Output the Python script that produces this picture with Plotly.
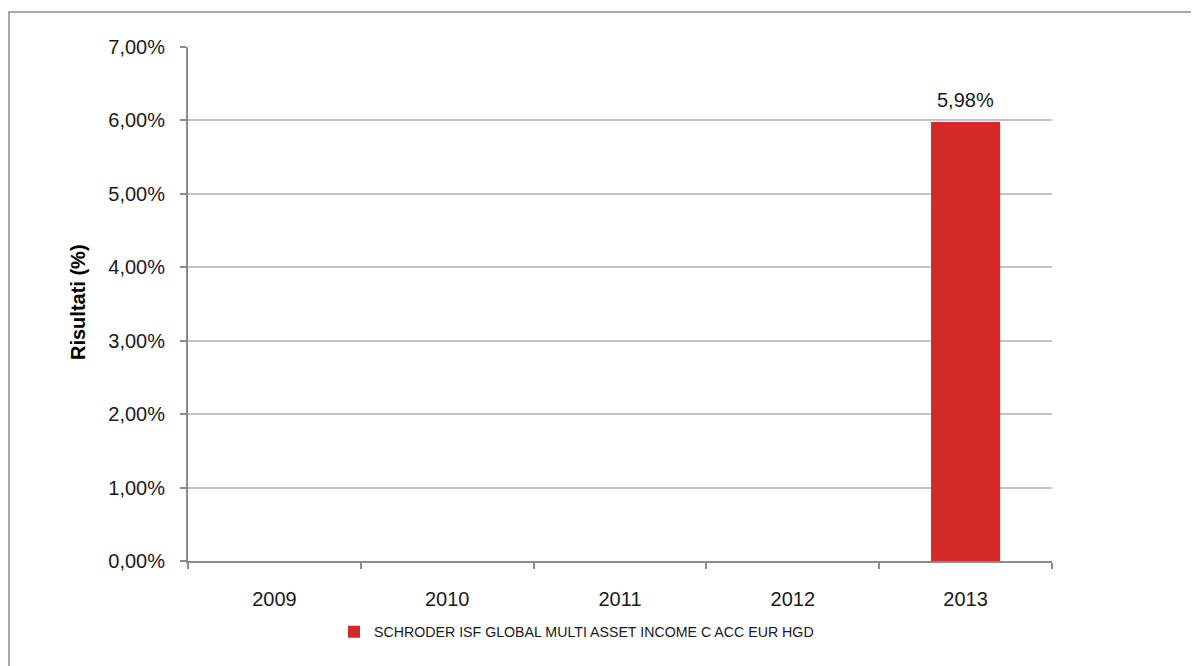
import plotly.graph_objects as go

years = ["2009", "2010", "2011", "2012", "2013"]
values = [None, None, None, None, 5.98]
series_name = "SCHRODER ISF GLOBAL MULTI ASSET INCOME C ACC EUR HGD"
y_ticks = [0, 1, 2, 3, 4, 5, 6, 7]
y_ticktext = [f"{v:.2f}%".replace(".", ",") for v in y_ticks]
bar_labels = [None if v is None else f"{v:.2f}%".replace(".", ",") for v in values]

FONT = "Liberation Sans, Arial, sans-serif"
AXIS_COL = "#8c8c8c"
GRID_COL = "#c4c4c4"
BAR_COL = "#d42a27"

# page body has an 8px default margin: compensate
OFF = 8
W, H = 1199 - OFF, 666 - OFF
L, R, T, B = 188 - OFF, 147, 47 - OFF, 105
pw = W - L - R
ph = H - T - B
# page-pixel -> paper helpers
px = lambda x: (x - OFF - L) / pw
py = lambda y: (H - B - (y - OFF)) / ph

fig = go.Figure()
fig.add_trace(go.Bar(
    x=years, y=values, name=series_name,
    marker=dict(color=BAR_COL, line=dict(width=0)),
    width=0.4, showlegend=True,
))

# data labels (category axis: position by category index)
for i, (yv, lab) in enumerate(zip(values, bar_labels)):
    if yv is not None:
        fig.add_annotation(
            x=i, y=yv, xref="x", yref="y",
            text=lab, showarrow=False,
            xanchor="center", yanchor="middle", yshift=22,
            font=dict(family=FONT, size=20, color="#1a1a1a"),
        )

# axis title
fig.add_annotation(
    x=px(78), y=py(302), xref="paper", yref="paper",
    xanchor="center", yanchor="middle",
    text="<b>Risultati (%)</b>", textangle=-90, showarrow=False,
    font=dict(family=FONT, size=20, color="#000000"),
)

# outer border
fig.add_shape(
    type="rect", xref="paper", yref="paper",
    x0=px(9), x1=px(1230), y0=py(700), y1=py(12),
    line=dict(color="#8c8c8c", width=1.5), fillcolor="rgba(0,0,0,0)",
    layer="below",
)

fig.update_layout(
    width=W, height=H,
    margin=dict(l=L, r=R, t=T, b=B, autoexpand=False),
    paper_bgcolor="white", plot_bgcolor="white",
    separators=",.",
    font=dict(family=FONT, color="#1a1a1a"),
    showlegend=True,
    legend=dict(
        orientation="h", x=px(334), xanchor="left",
        y=py(632), yanchor="middle",
        font=dict(family=FONT, size=14.2, color="#1a1a1a"),
        bgcolor="rgba(0,0,0,0)",
    ),
    xaxis=dict(
        type="category", categoryorder="array", categoryarray=years,
        showline=True, linecolor=AXIS_COL, linewidth=2,
        ticks="outside", tickson="boundaries", ticklen=6, tickcolor=AXIS_COL, tickwidth=2,
        showgrid=False, tickfont=dict(family=FONT, size=20, color="#1a1a1a"),
        range=[-0.5, 4.5], ticklabelstandoff=19,
    ),
    yaxis=dict(
        range=[0, 7], tickvals=y_ticks, ticktext=y_ticktext,
        showline=True, linecolor=AXIS_COL, linewidth=2,
        ticks="outside", ticklen=6, tickcolor=AXIS_COL, tickwidth=2,
        showgrid=True, gridcolor=GRID_COL, gridwidth=1.5,
        zeroline=False,
        tickfont=dict(family=FONT, size=20, color="#1a1a1a"),
        ticklabelstandoff=11,
    ),
)

fig.write_html("out.html")
